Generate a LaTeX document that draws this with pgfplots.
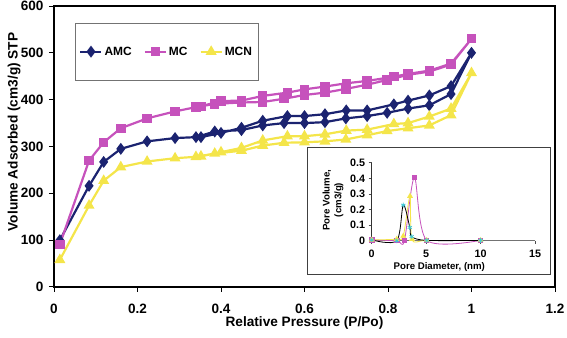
\documentclass[border=0pt]{standalone}
\usepackage{fontspec}
\setmainfont{Liberation Sans}
\usepackage{pgfplots}
\pgfplotsset{compat=1.18}

\definecolor{amc}{HTML}{1B2370}
\definecolor{mc}{HTML}{C652BC}
\definecolor{mcn}{HTML}{F4E54A}
\definecolor{amcpsd}{HTML}{3CC8D8}

% N2 isotherms: adsorption branch up to P/Po = 1, then desorption branch back down
\pgfplotstableread{
p      v
0.014  100
0.084  216
0.119  267
0.160  295
0.223  311
0.290  318
0.340  320
0.385  332
0.449  335
0.500  345
0.551  350
0.600  350
0.649  352
0.699  360
0.750  365
0.798  372
0.848  381
0.899  388
0.951  412
1.000  500
0.951  429
0.899  409
0.848  398
0.814  390
0.750  377
0.700  377
0.649  369
0.600  365
0.559  365
0.500  355
0.449  340
0.400  329
0.352  320
}\amc

\pgfplotstableread{
p      v
0.014  91
0.084  270
0.119  309
0.160  339
0.223  360
0.290  375
0.340  384
0.385  391
0.449  394
0.500  395
0.551  402
0.600  410
0.649  415
0.699  423
0.750  432
0.798  442
0.848  453
0.899  460
0.951  475
1.000  530
0.951  477
0.899  462
0.848  455
0.814  449
0.750  440
0.700  435
0.649  428
0.600  422
0.559  415
0.500  408
0.449  398
0.400  397
0.352  386
}\mc

\pgfplotstableread{
p      v
0.014  58
0.084  174
0.119  227
0.160  256
0.223  268
0.290  275
0.340  278
0.385  285
0.449  291
0.500  302
0.551  308
0.600  309
0.649  311
0.699  315
0.750  324
0.798  333
0.848  339
0.899  345
0.951  367
1.000  457
0.951  381
0.899  364
0.848  350
0.814  348
0.750  336
0.700  334
0.649  326
0.600  322
0.559  322
0.500  313
0.449  297
0.400  288
0.352  279
}\mcn

% pore size distributions
\pgfplotstableread{
d     pv
0     0.005
2.3   0.000
2.9   0.228
3.5   0.085
3.67  0.026
5.05  0.002
10    0.002
}\amcpsd

\pgfplotstableread{
d     pv
0     0.005
2.3   0.000
3.0   0.000
3.92  0.404
5.05  0.003
10    0.002
}\mcpsd

\pgfplotstableread{
d     pv
0     0.005
2.3   0.010
2.9   0.030
3.52  0.286
3.7   0.010
5.05  0.002
10    0.002
}\mcnpsd

\begin{document}
\begin{tikzpicture}
\path[use as bounding box] (0bp,0bp) rectangle (567bp,338bp);

\begin{axis}[
  at={(54bp,51bp)}, anchor=south west,
  scale only axis, width=501bp, height=281bp,
  xmin=0, xmax=1.2, ymin=0, ymax=600,
  xtick={0,0.2,0.4,0.6,0.8,1,1.2},
  ytick={0,100,...,600},
  tick align=outside, xtick pos=bottom, ytick pos=left,
  major tick length=5bp,
  axis line style={line width=1.5bp},
  every tick/.style={black, line width=1bp},
  /pgf/number format/assume math mode=true,
  ticklabel style={font=\fontsize{13.6}{16}\selectfont\bfseries},
  xticklabel style={yshift=-9bp},
  yticklabel style={xshift=-2bp},
  xlabel={Relative Pressure (P/Po)},
  ylabel={Volume Adsorbed (cm3/g) STP},
  label style={font=\fontsize{13.7}{16}\selectfont\bfseries},
  every axis x label/.append style={at={(axis description cs:0.5,-0.128)}, anchor=center},
  every axis y label/.append style={at={(axis description cs:-0.0798,0.552)}, anchor=center},
  legend columns=3,
  legend style={at={(axis description cs:0.0419,0.94)}, anchor=north west,
    draw=black!55, line width=0.8bp, inner xsep=4bp, inner ysep=21.5bp,
    font=\fontsize{12}{14}\selectfont\bfseries,
    /tikz/every even column/.append style={column sep=10bp}},
  legend image code/.code={%
    \draw[mark repeat=2, mark phase=2, #1] plot coordinates {(0bp,0bp) (10.5bp,0bp) (21bp,0bp)};},
]
\addplot[amc, line width=2.2bp, mark=diamond*, mark size=4.2bp, mark options={solid}]
  table[x=p, y=v] {\amc};
\addlegendentry{AMC}
\addplot[mc, line width=2.2bp, mark=square*, mark size=3.6bp, mark options={solid}]
  table[x=p, y=v] {\mc};
\addlegendentry{MC}
\addplot[mcn, line width=2.2bp, mark=triangle*, mark size=4.2bp, mark options={solid}]
  table[x=p, y=v] {\mcn};
\addlegendentry{MCN}
\end{axis}

% inset frame
\draw[black!75, line width=0.9bp, fill=white] (307bp,64bp) rectangle (550bp,191bp);

\begin{axis}[
  at={(371.7bp,97.3bp)}, anchor=south west,
  scale only axis, width=163.3bp, height=78bp,
  xmin=0, xmax=15, ymin=0, ymax=0.5,
  clip=false,
  axis x line*=bottom, axis y line*=left,
  x axis line style={-, black!55, line width=0.8bp},
  y axis line style={-, black!80, line width=0.7bp},
  xtick={0,5,10,15}, ytick={0,0.1,...,0.5},
  tick align=outside, major tick length=3bp,
  every tick/.style={black!70, line width=0.6bp},
  /pgf/number format/assume math mode=true,
  ticklabel style={font=\fontsize{10.8}{12}\selectfont\bfseries},
  yticklabel style={/pgf/number format/fixed, /pgf/number format/precision=1},
  xticklabel style={yshift=-3bp},
  xlabel={Pore Diameter, (nm)},
  ylabel={Pore Volume,\\(cm3/g)},
  label style={font=\fontsize{9.7}{12}\selectfont\bfseries, align=center},
  every axis x label/.append style={at={(axis description cs:0.414,-0.333)}, anchor=center},
  every axis y label/.append style={at={(axis description cs:-0.237,0.522)}, anchor=center},
]
\addplot[mc, line width=0.8bp, smooth, mark=square*, mark size=2.2bp, mark options={solid}]
  table[x=d, y=pv] {\mcpsd};
\addplot[mcn, line width=0.8bp, smooth, mark=triangle*, mark size=2.6bp, mark options={solid}]
  table[x=d, y=pv] {\mcnpsd};
\addplot[black, line width=0.8bp, smooth, mark=asterisk, mark size=2.4bp, mark options={solid, amcpsd, line width=0.7bp}]
  table[x=d, y=pv] {\amcpsd};
\end{axis}
\end{tikzpicture}
\end{document}
